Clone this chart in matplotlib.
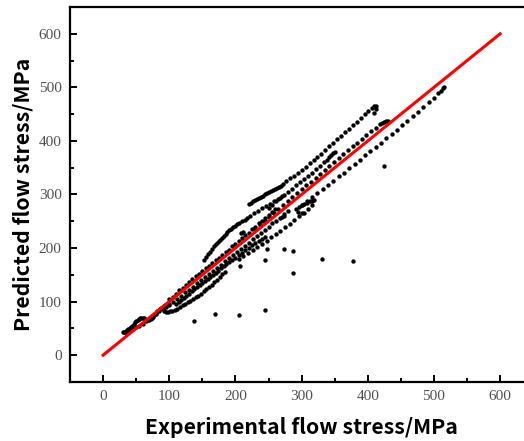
import matplotlib
matplotlib.use('Agg')
import matplotlib.pyplot as plt
from matplotlib.ticker import MultipleLocator
import numpy as np

# experimental (x) vs predicted (y) flow stress, MPa
low_x = [30, 32, 34, 36, 38, 40, 42, 44, 46, 48, 50, 52, 54, 56, 58, 60, 62, 64,
         66, 68, 70, 72, 74, 76, 78, 80, 82, 84, 86, 88, 90, 92, 94, 96, 98]
low_y = [44, 44, 45, 46, 48, 50, 52, 55, 58, 61, 63, 66, 68, 69, 70, 70, 69, 67,
         65, 65, 66, 68, 70, 73, 76, 79, 82, 84, 86, 88, 90, 92, 94, 96, 98]

low2_x = [35, 40, 45, 50, 55, 60, 65, 70, 75, 80, 85, 90, 95, 100]
low2_y = [42, 45, 49, 52, 55, 59, 63, 67, 71, 76, 82, 86, 90, 95]

oval_x = [92, 95, 98, 101, 104, 108, 112, 116, 120, 124, 128, 132, 136, 140,
          144, 148, 152, 156, 160, 164, 168, 172, 176, 180, 184]
oval_y = [82, 81, 81, 82, 83, 85, 87, 90, 93, 96, 99, 102, 105, 108,
          111, 115, 119, 123, 127, 131, 136, 141, 146, 151, 156]

band_a_x = [100, 105, 110, 115, 120, 125, 130, 135, 140, 145, 150, 155, 160,
            165, 170, 175, 180, 185, 190, 195, 200, 205, 210, 215, 220, 225,
            230, 235, 240, 245, 250, 255, 260]
band_a_y = [104, 109, 115, 121, 126, 131, 137, 142, 147, 152, 157, 162, 167,
            172, 177, 182, 187, 192, 197, 203, 208, 213, 219, 224, 229, 235,
            240, 246, 251, 256, 262, 267, 273]

band_b_x = [100, 106, 112, 118, 124, 130, 136, 142, 148, 154, 160, 166, 172,
            178, 184, 190, 196, 202, 208, 214, 220, 226, 232, 238, 244, 250,
            256, 262, 268, 274, 280]
band_b_y = [93, 99, 105, 111, 117, 122, 128, 134, 140, 146, 151, 157, 163,
            169, 175, 181, 187, 192, 198, 204, 210, 216, 222, 228, 234, 240,
            246, 251, 257, 263, 269]

band_c_x = [110, 114, 118, 122, 126, 130, 134, 138, 142, 146, 150, 154, 158,
            162, 166, 170, 174, 178, 182, 186, 190, 195, 200, 205, 210, 215,
            220, 225, 230, 235, 240, 245]
band_c_y = [95, 99, 103, 107, 111, 115, 119, 123, 127, 131, 135, 139, 143,
            146, 150, 154, 158, 162, 166, 170, 173, 178, 182, 187, 191, 196,
            200, 205, 209, 213, 217, 221]

arc_x = [152, 155, 158, 161, 164, 167, 170, 173, 176, 179, 182, 185, 188, 191,
         194, 197, 200, 203, 206, 210, 214, 218, 222, 228, 234, 240, 246, 252,
         258, 264, 270]
arc_y = [178, 183, 188, 193, 198, 203, 207, 211, 215, 219, 223, 226, 230, 233,
         236, 239, 242, 245, 247, 250, 253, 256, 259, 265, 270, 275, 279, 283,
         288, 292, 297]

upper_x = [221, 224, 227, 230, 233, 236, 239, 242, 245, 248, 251, 254, 257,
           260, 263, 266, 269, 272]
upper_y = [282, 285, 287, 290, 292, 294, 296, 298, 300, 302, 304, 306, 308,
           310, 312, 314, 316, 319]

top_x = [276, 282, 288, 294, 300, 306, 312, 318, 324, 330, 336, 342, 348, 354,
         360, 366, 372, 378, 384, 390, 396, 401, 406, 410, 413, 412, 409]
top_y = [325, 330, 335, 340, 346, 352, 358, 364, 370, 376, 383, 390, 397, 403,
         410, 416, 422, 429, 436, 443, 450, 456, 462, 466, 466, 459, 452]

mid_x = [250, 256, 262, 268, 274, 280, 286, 292, 298, 304, 310, 316, 322, 328,
         334, 338, 342, 345, 348, 350]
mid_y = [275, 281, 287, 293, 299, 305, 311, 317, 323, 329, 335, 341, 347, 353,
         360, 365, 370, 374, 377, 379]

near_x = [230, 237, 244, 251, 258, 265, 272, 279, 286, 293, 300, 307, 314, 321,
          328, 335, 342, 349, 356, 363, 370, 377, 384, 391, 398, 405, 412, 418,
          422, 425, 428, 430]
near_y = [236, 243, 250, 258, 265, 273, 280, 287, 295, 302, 310, 317, 324, 331,
          339, 346, 353, 361, 368, 375, 383, 390, 397, 404, 411, 418, 425, 431,
          434, 436, 437, 437]

long_x = [300, 308, 316, 324, 332, 340, 348, 356, 364, 372, 380, 388, 396, 404,
          412, 420, 428, 436, 444, 452, 460, 468, 476, 484, 492, 500, 506, 510,
          513, 515]
long_y = [280, 287, 295, 302, 310, 318, 326, 334, 341, 349, 357, 365, 373, 381,
          389, 397, 405, 413, 421, 429, 437, 446, 454, 463, 472, 481, 489, 494,
          498, 500]

under_x = [205, 212, 219, 226, 233, 240, 247, 254, 261, 268, 275, 282, 289,
           296, 303, 310, 316]
under_y = [180, 185, 190, 196, 202, 208, 214, 220, 226, 232, 239, 245, 252,
           259, 266, 273, 280]

blob_x = [292, 296, 300, 304, 308, 312, 316, 318, 294, 300, 209, 212, 270, 274]
blob_y = [272, 276, 280, 283, 285, 287, 288, 290, 268, 266, 228, 230, 258, 260]

outlier_x = [138, 169, 206, 245, 245, 248, 273, 287, 287, 331, 377, 424, 207]
outlier_y = [64, 77, 75, 85, 178, 198, 199, 195, 154, 180, 175, 354, 167]

line_x = [0, 600]
line_y = [0, 600]

exp_x = np.concatenate([low_x, low2_x, oval_x, band_a_x, band_b_x, band_c_x,
                        arc_x, upper_x, top_x, mid_x, near_x, long_x, under_x,
                        blob_x, outlier_x])
pred_y = np.concatenate([low_y, low2_y, oval_y, band_a_y, band_b_y, band_c_y,
                         arc_y, upper_y, top_y, mid_y, near_y, long_y, under_y,
                         blob_y, outlier_y])

fig = plt.figure(figsize=(5.24, 4.41), dpi=100)
ax = fig.add_axes([0.1336, 0.134, 0.884, 0.850])
ax.scatter(exp_x, pred_y, s=10, color='black', linewidths=0, zorder=2)
ax.plot(line_x, line_y, color='#ff0000', linewidth=2.2, zorder=3)

ax.set_xlim(-50, 650)
ax.set_ylim(-50, 650)
ax.xaxis.set_major_locator(MultipleLocator(100))
ax.xaxis.set_minor_locator(MultipleLocator(50))
ax.yaxis.set_major_locator(MultipleLocator(100))
ax.yaxis.set_minor_locator(MultipleLocator(50))
ax.tick_params(which='both', direction='in', width=1.4, colors='black',
               labelcolor='#505050', labelsize=11, pad=6,
               labelfontfamily='Liberation Serif')
ax.tick_params(which='major', length=5)
ax.tick_params(which='minor', length=3)
for spine in ax.spines.values():
  spine.set_linewidth(1.6)

label_font = dict(family=['Noto Sans CJK SC', 'DejaVu Sans'],
                  fontweight='bold', fontsize=15.3)
ax.set_xlabel('Experimental flow stress/MPa', labelpad=10, **label_font)
ax.set_ylabel('Predicted flow stress/MPa', labelpad=4, **label_font)

fig.savefig('out.png', dpi=100)
